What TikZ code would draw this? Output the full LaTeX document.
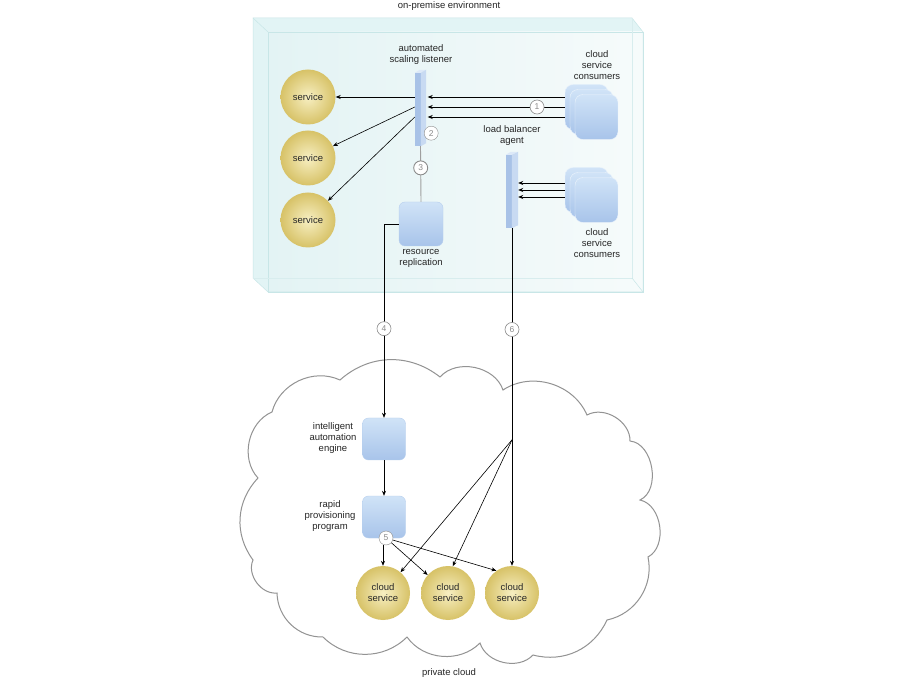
\documentclass[tikz,border=0pt]{standalone}
\usepackage{fontspec}
\setmainfont{Liberation Sans}
\usetikzlibrary{positioning,arrows.meta,calc}

\definecolor{boxSide}{HTML}{E2F4F5}
\definecolor{boxFrontA}{HTML}{E3F3F4}
\definecolor{boxFrontB}{HTML}{F6FBFB}
\definecolor{boxEdge}{HTML}{C8E6E7}
\definecolor{blueTop}{HTML}{D0E3F7}
\definecolor{blueBot}{HTML}{A8C4EA}
\definecolor{blueEdge}{HTML}{B7CFEE}
\definecolor{barFront}{HTML}{A8C2E7}
\definecolor{barSide}{HTML}{C8DAF2}
\definecolor{barTop}{HTML}{DDE9F8}
\definecolor{goldIn}{HTML}{F7EFC2}
\definecolor{goldOut}{HTML}{D7C267}
\definecolor{numGray}{HTML}{8A8A8A}

\begin{document}
\begin{tikzpicture}[
        x=1pt, y=-1pt,
        font=\fontsize{9.5}{11}\selectfont,
        lbl/.style={align=center, text=black!85},
        svc/.style={circle, minimum size=55pt, inner sep=0pt, align=center, text=black!85, shade, inner color=goldIn, outer color=goldOut},
        blk/.style={rounded corners=6pt, minimum width=44pt, minimum height=44pt, inner sep=0pt, top color=blueTop, bottom color=blueBot, draw=blueEdge, line width=0.4pt},
        bar/.style={minimum width=11pt, minimum height=76pt, inner sep=0pt},
        num/.style={circle, draw=numGray, fill=white, minimum size=14pt, inner sep=0pt, text=numGray, font=\fontsize{8.5}{8.5}\selectfont},
        arr/.style={-{Stealth[length=5pt, width=4pt]}, line width=0.6pt},
        link/.style={draw=gray!75, line width=0.9pt},
        cloudline/.style={draw=gray!85, line width=1pt, fill=white},
    ]

    \useasboundingbox (0,0) rectangle (900,700);
    \fill[white] (0,0) rectangle (900,700);

    %====================== on-premise environment (box) ======================
    \fill[boxSide] (253,18) -- (632,18) -- (643,32) -- (643,292) -- (268,292) -- (253,278) -- cycle;
    \shade[left color=boxFrontA, right color=boxFrontB] (268,32) rectangle (643,292);
    \draw[boxEdge, line width=0.5pt] (253,18) -- (632,18) -- (643,32) -- (643,292) -- (268,292) -- (253,278) -- cycle;
    \draw[boxEdge, line width=0.5pt] (268,32) rectangle (643,292);
    \draw[boxEdge!70!white, line width=0.4pt] (632,18) -- (632,278) -- (253,278);
    \draw[boxEdge, line width=0.5pt] (253,18) -- (268,32) (632,278) -- (643,292);
    \node[lbl] (envlbl) at (449,6) {on-premise environment};

    %====================== private cloud ======================
    \draw[cloudline] (258,478) to[bend left=55] (272,412) to[bend left=50] (340,380)
        to[bend left=40] (440,377) to[bend left=60] (503,390) to[bend left=50] (587,415)
        to[bend left=60] (630,441) to[bend left=75] (640,500) to[bend left=70] (648,557)
        to[bend left=45] (607,620) to[bend left=40] (533,655) to[bend left=60] (480,643)
        to[bend left=50] (407,637) to[bend left=45] (323,637) to[bend left=45] (277,593)
        to[bend left=60] (253,560) to[bend left=40] (258,478) -- cycle;
    \node[lbl] (pclbl) at (449,673) {private cloud};

    %====================== services ======================
    \node[svc] (svc1) at (308,97) {service};
    \node[svc] (svc2) at (308,158) {service};
    \node[svc] (svc3) at (308,220) {service};

    %====================== bars ======================
    \node[bar] (asl) at (420.5,108) {};
    \node[bar, minimum width=12pt] (lba) at (512,190) {};
    \foreach \b in {asl, lba} {
        \fill[barTop] ($(\b.north west)+(0,3)$) -- ($(\b.north west)+(5,0)$) -- (\b.north east) -- ($(\b.north west)+(6,3)$) -- cycle;
        \fill[barFront] ($(\b.north west)+(0,3)$) rectangle ($(\b.south west)+(6,0)$);
        \fill[barSide] ($(\b.north west)+(6,3)$) -- (\b.north east) -- ($(\b.south east)+(0,-3)$) -- ($(\b.south west)+(6,0)$) -- cycle;
    }
    \node[lbl] (asllbl) at (421,55) {automated\\scaling listener};
    \node[lbl] (lbalbl) at (512,136) {load balancer\\agent};

    %====================== cloud service consumers ======================
    \foreach \d in {0,5,10} {
        \node[blk, rounded corners=8pt, minimum width=43pt, minimum height=45pt, draw=white!60!blueTop] (csc1-\d) at (586.5+\d,107+\d) {};
        \node[blk, rounded corners=8pt, minimum width=43pt, minimum height=45pt, draw=white!60!blueTop] (csc2-\d) at (586.5+\d,190+\d) {};
    }
    \node[lbl] (csc1lbl) at (597,65) {cloud\\service\\consumers};
    \node[lbl] (csc2lbl) at (597,243) {cloud\\service\\consumers};

    % consumers -> listener
    \foreach \o in {-10,10} {
        \coordinate (src) at ($(csc1-0.west)+(0,\o)$);
        \draw[arr, shorten >=1.5pt] (src) -- (src -| asl.east);
    }
    \draw[arr, shorten >=1.5pt] (csc1-0.west) -- node[num, pos=0.2] {1} (csc1-0.west -| asl.east);

    % consumers -> load balancer
    \foreach \o in {-7,0,7} {
        \coordinate (src) at ($(csc2-0.west)+(0,\o)$);
        \draw[arr] (src) -- (src -| lba.east);
    }

    % listener -> services
    \draw[arr] ($(asl.west)+(0,-11)$) -- (svc1.east);
    \draw[arr] ($(asl.west)+(0,-1)$) -- (svc2);
    \draw[arr] ($(asl.west)+(0,9)$) -- (svc3);
    \node[num] (n2) at ($(asl.south east)+(5,-13)$) {2};

    %====================== resource replication ======================
    \node[blk] (rr) at (421,224) {};
    \node[lbl] (rrlbl) at (421,258.5) {resource\\replication};
    \draw[link] (asl.south) -- node[num, pos=0.39] {3} (rr.north);

    %====================== private cloud contents ======================
    \node[blk, minimum width=43pt, minimum height=42pt] (iae) at (384,439) {};
    \node[lbl] (iaelbl) at (333,438) {intelligent\\automation\\engine};
    \node[blk, minimum width=43pt, minimum height=42pt] (rpp) at (384,517) {};
    \node[lbl] (rpplbl) at (330,516) {rapid\\provisioning\\program};

    \node[svc, minimum size=54pt] (cs1) at (383,593) {cloud\\service};
    \node[svc, minimum size=54pt] (cs2) at (448,593) {cloud\\service};
    \node[svc, minimum size=54pt] (cs3) at (512,593) {cloud\\service};

    \draw[arr] (rr.west) -| node[num, pos=0.77] {4} (iae.north);
    \draw[arr] (iae.south) -- (rpp.north);

    \node[num] (n5) at (386,538) {5};
    \draw[arr] (n5.south -| cs1.north) -- (cs1.north);
    \draw[arr] (n5) -- (cs2);
    \draw[arr] (n5) -- (cs3.125);

    \draw[arr] (lba.south) -- node[num, pos=0.3] {6} coordinate[pos=0.627] (lbsplit) (cs3.north);
    \draw[arr] (lbsplit) -- (cs1);
    \draw[arr] (lbsplit) -- (cs2.80);

\end{tikzpicture}
\end{document}
